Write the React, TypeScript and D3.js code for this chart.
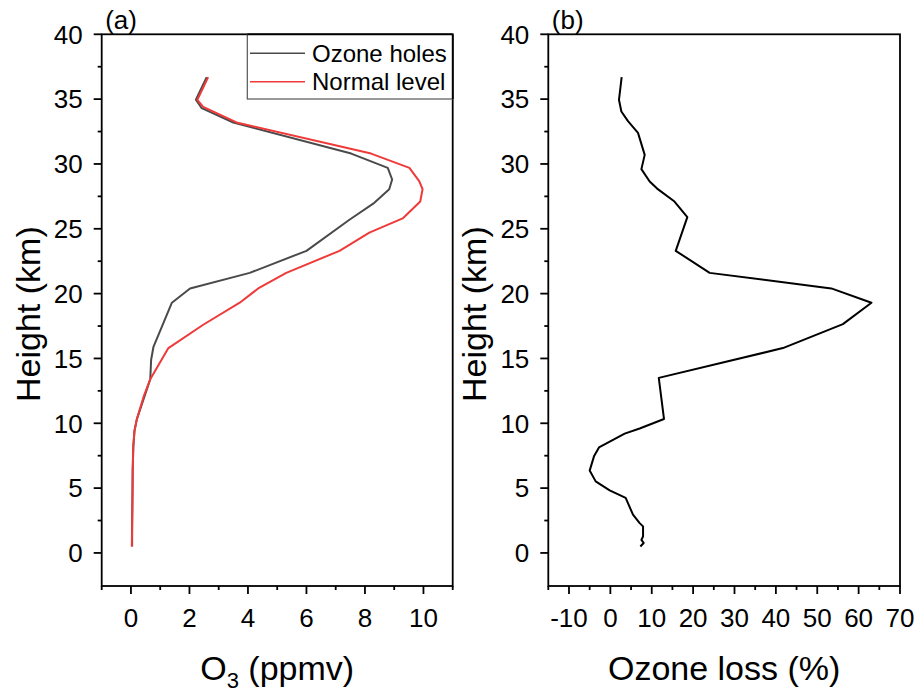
import React from "react";
import * as d3 from "d3";

// Ozone profile during ozone-hole conditions (ppmv vs km)
const holeHeight = [36.7, 34.95, 34.3, 33.2, 30.8, 29.7, 28.8, 28.05, 27.0, 25.7, 23.3, 21.6, 20.4, 19.3, 15.9, 14.9, 13.4, 10.3, 9.4, 8.2, 6.4, 4.0, 2.0, 0.5];
const holeO3 = [2.59, 2.22, 2.42, 3.5, 7.53, 8.78, 8.93, 8.83, 8.32, 7.47, 6.0, 4.06, 2.02, 1.4, 0.77, 0.69, 0.66, 0.2, 0.12, 0.08, 0.06, 0.05, 0.04, 0.04];

// Ozone profile at normal level
const normalHeight = [36.7, 34.95, 34.4, 33.2, 30.8, 29.7, 28.65, 28.05, 27.1, 25.8, 24.7, 23.3, 21.6, 20.4, 19.3, 17.6, 15.8, 13.4, 12.1, 10.3, 9.4, 8.2, 6.4, 4.0, 2.0, 0.5];
const normalO3 = [2.64, 2.27, 2.47, 3.61, 8.21, 9.52, 9.86, 9.97, 9.89, 9.29, 8.15, 7.13, 5.31, 4.35, 3.72, 2.47, 1.28, 0.66, 0.44, 0.2, 0.12, 0.08, 0.06, 0.05, 0.04, 0.03];

// Relative ozone loss (%)
const lossHeight = [36.7, 34.95, 34.05, 33.3, 32.4, 30.7, 29.6, 28.65, 28.1, 27.1, 25.9, 23.3, 21.6, 20.4, 19.3, 17.65, 15.8, 13.5, 10.33, 9.6, 9.2, 8.14, 7.45, 6.35, 5.52, 4.83, 4.24, 2.95, 2.3, 2.05, 1.28, 1.0, 0.77, 0.5];
const lossPct = [2.73, 2.08, 2.66, 4.26, 6.68, 8.3, 7.5, 9.5, 11.3, 15.5, 18.6, 15.8, 24.0, 53.4, 63.1, 56.2, 41.7, 11.7, 12.96, 7.08, 3.46, -2.75, -3.96, -5.0, -3.55, -0.17, 3.7, 5.47, 7.08, 7.9, 7.9, 7.5, 8.05, 7.25];

const heightTicks = [0, 5, 10, 15, 20, 25, 30, 35, 40];
const heightMinor = [2.5, 7.5, 12.5, 17.5, 22.5, 27.5, 32.5, 37.5];
const o3Ticks = [0, 2, 4, 6, 8, 10];
const o3Minor = [-1, 1, 3, 5, 7, 9, 11];
const lossTicks = [-10, 0, 10, 20, 30, 40, 50, 60, 70];
const lossMinor = [-15, -5, 5, 15, 25, 35, 45, 55, 65];

const seriesNames = ["Ozone holes", "Normal level"];
const seriesColors = ["#4a4a4a", "#ef3a3a"];

const FONT = "'Liberation Sans', Arial, Helvetica, sans-serif";
const TOP = 34.3;
const BOTTOM = 586;

type Pt = [number, number];
const zip = (xs: number[], ys: number[]): Pt[] => xs.map((x, i) => [x, ys[i]]);

function Panel(props: {
  left: number;
  right: number;
  xDomain: [number, number];
  xTicks: number[];
  xMinor: number[];
  tag: string;
  xTitle: React.ReactNode;
  lines: { pts: Pt[]; color: string }[];
  children?: (x: d3.ScaleLinear<number, number>, y: d3.ScaleLinear<number, number>) => React.ReactNode;
}) {
  const { left, right, xDomain, xTicks, xMinor, tag, xTitle, lines } = props;
  const x = d3.scaleLinear().domain(xDomain).range([left, right]);
  const y = d3.scaleLinear().domain([-2.55, 40]).range([BOTTOM, TOP]);
  const line = d3
    .line<Pt>()
    .x((d) => x(d[0]))
    .y((d) => y(d[1]));
  const midX = (left + right) / 2;
  const midY = (TOP + BOTTOM) / 2;
  return (
    <g>
      {lines.map((l, i) => (
        <path key={i} d={line(l.pts) || ""} fill="none" stroke={l.color} strokeWidth={2} strokeLinejoin="round" />
      ))}
      <rect x={left} y={TOP} width={right - left} height={BOTTOM - TOP} fill="none" stroke="#000" strokeWidth={1.8} />
      {heightTicks.map((t) => (
        <g key={"ym" + t}>
          <line x1={left - 8} x2={left} y1={y(t)} y2={y(t)} stroke="#000" strokeWidth={1.8} />
          <text x={left - 19} y={y(t)} dy="0.36em" textAnchor="end" fontSize={26} fontFamily={FONT}>
            {t}
          </text>
        </g>
      ))}
      {heightMinor.map((t) => (
        <line key={"yn" + t} x1={left - 4} x2={left} y1={y(t)} y2={y(t)} stroke="#000" strokeWidth={1.8} />
      ))}
      {xTicks.map((t) => (
        <g key={"xm" + t}>
          <line x1={x(t)} x2={x(t)} y1={BOTTOM} y2={BOTTOM + 8} stroke="#000" strokeWidth={1.8} />
          <text x={x(t)} y={BOTTOM + 40.5} textAnchor="middle" fontSize={26} fontFamily={FONT}>
            {t}
          </text>
        </g>
      ))}
      {xMinor.map((t) => (
        <line key={"xn" + t} x1={x(t)} x2={x(t)} y1={BOTTOM} y2={BOTTOM + 4} stroke="#000" strokeWidth={1.8} />
      ))}
      <text x={left + 3.5} y={29} fontSize={26} fontFamily={FONT}>
        {tag}
      </text>
      <text
        transform={`translate(${left - 62},${midY + 4}) rotate(-90)`}
        textAnchor="middle"
        fontSize={34}
        fontFamily={FONT}
      >
        Height (km)
      </text>
      <text x={midX} y={680} textAnchor="middle" fontSize={34} fontFamily={FONT}>
        {xTitle}
      </text>
      {props.children ? props.children(x, y) : null}
    </g>
  );
}

export default function App() {
  const holePts = zip(holeO3, holeHeight);
  const normalPts = zip(normalO3, normalHeight);
  const lossPts = zip(lossPct, lossHeight);
  const legendX = 247.3;
  const legendRight = 452.7;
  return (
    <svg
      width={917}
      height={693}
      style={{ position: "absolute", left: 0, top: 0, background: "#fff" }}
      xmlns="http://www.w3.org/2000/svg"
    >
      <rect width={917} height={693} fill="#fff" />
      <Panel
        left={101.7}
        right={452.7}
        xDomain={[-1, 11]}
        xTicks={o3Ticks}
        xMinor={o3Minor}
        tag="(a)"
        xTitle={
          <>
            <tspan>O</tspan>
            <tspan fontSize={22} dy={8}>
              3
            </tspan>
            <tspan dy={-8}> (ppmv)</tspan>
          </>
        }
        lines={[
          { pts: holePts, color: seriesColors[0] },
          { pts: normalPts, color: seriesColors[1] },
        ]}
      >
        {() => (
          <g>
            <rect
              x={legendX}
              y={TOP}
              width={legendRight - legendX}
              height={99 - TOP}
              fill="#fff"
              stroke="#555"
              strokeWidth={1.2}
            />
            {seriesNames.map((name, i) => (
              <g key={name}>
                <line
                  x1={250}
                  x2={305}
                  y1={53.3 + i * 28.4}
                  y2={53.3 + i * 28.4}
                  stroke={seriesColors[i]}
                  strokeWidth={1.6}
                />
                <text x={312} y={61.8 + i * 28.4} fontSize={24} fontFamily={FONT}>
                  {name}
                </text>
              </g>
            ))}
            <line x1={legendRight} x2={legendRight} y1={TOP} y2={99} stroke="#000" strokeWidth={1.8} />
            <line x1={legendX} x2={legendRight} y1={TOP} y2={TOP} stroke="#000" strokeWidth={1.8} />
          </g>
        )}
      </Panel>
      <Panel
        left={548.3}
        right={900}
        xDomain={[-15, 70]}
        xTicks={lossTicks}
        xMinor={lossMinor}
        tag="(b)"
        xTitle="Ozone loss (%)"
        lines={[{ pts: lossPts, color: "#000" }]}
      />
    </svg>
  );
}
